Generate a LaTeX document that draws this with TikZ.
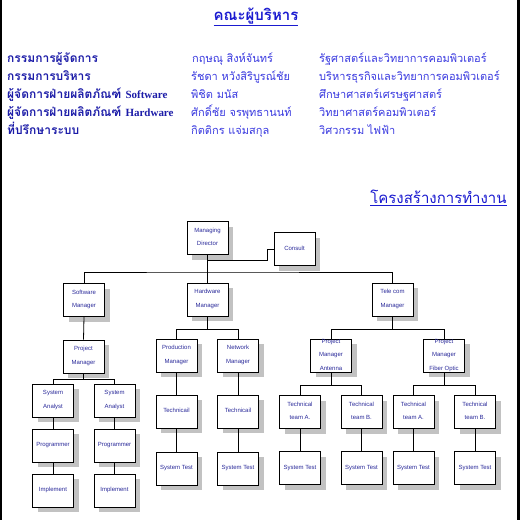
\documentclass[tikz,border=0pt]{standalone}
\usepackage{fontspec}
\setmainfont{Liberation Serif}
\setsansfont{Liberation Sans}
\newfontfamily\thai[Script=Thai]{Loma}
\usetikzlibrary{shadows}
\definecolor{hdblue}{HTML}{1C1CA8}
\definecolor{txblue}{HTML}{3A3AE0}
\definecolor{ttblue}{HTML}{1A1AD0}
\definecolor{boxtxt}{HTML}{2A2A9A}
\newcommand{\bxt}[1]{\smash{\begin{tabular}[c]{@{}c@{}}#1\end{tabular}}}
\begin{document}
\begin{tikzpicture}[x=1pt,y=-1pt,
  box/.style={draw=black, line width=0.8pt, fill=white, minimum width=41pt, minimum height=33pt,
    inner sep=0pt, font=\sffamily\fontsize{6}{13.5}\selectfont, text=boxtxt,
    drop shadow={shadow xshift=5pt, shadow yshift=-5pt, fill=black!24, opacity=1, draw=none}},
  con/.style={draw=black, line width=0.8pt},
  hd/.style={anchor=base west, inner sep=0pt, text=hdblue, font=\thai\bfseries\fontsize{12}{14}\selectfont},
  tx/.style={anchor=base west, inner sep=0pt, text=txblue, font=\thai\fontsize{11}{13}\selectfont},
  title/.style={inner sep=0pt, text=ttblue}]
\useasboundingbox (0,0) rectangle (520,520);
\fill[white] (0,0) rectangle (520,520);
\fill[black] (0,0) rectangle (1.5,520);
\fill[black] (517,0) rectangle (520,520);

% titles
\node[title, font=\thai\bfseries\fontsize{15}{17}\selectfont] (t1) at (256,17) {\underline{คณะผู้บริหาร}};
\node[title, font=\thai\fontsize{15}{17}\selectfont] (t2) at (438.5,198) {\underline{โครงสร้างการทำงาน}};

% executive table
\node[hd] (r1a) at (7,62) {กรรมการผู้จัดการ};
\node[hd] (r2a) at (7,80) {กรรมการบริหาร};
\node[hd] (r3a) at (7,98) {ผู้จัดการฝ่ายผลิตภัณฑ์ {\rmfamily\bfseries\fontsize{11}{13}\selectfont Software}};
\node[hd] (r4a) at (7,116) {ผู้จัดการฝ่ายผลิตภัณฑ์ {\rmfamily\bfseries\fontsize{11}{13}\selectfont Hardware}};
\node[hd] (r5a) at (7,134) {ที่ปรึกษาระบบ};
\node[tx] (r1b) at (192,62) {กฤษณุ สิงห์จันทร์};
\node[tx] (r2b) at (191,80) {รัชดา หวังสิริบูรณ์ชัย};
\node[tx] (r3b) at (191,98) {พิชิต มนัส};
\node[tx] (r4b) at (191,116) {ศักดิ์ชัย จรพุทธานนท์};
\node[tx] (r5b) at (191,134) {กิตติกร แจ่มสกุล};
\node[tx] (r1c) at (319,62) {รัฐศาสตร์และวิทยาการคอมพิวเตอร์};
\node[tx] (r2c) at (319,80) {บริหารธุรกิจและวิทยาการคอมพิวเตอร์};
\node[tx] (r3c) at (319,98) {ศึกษาศาสตร์เศรษฐศาสตร์};
\node[tx] (r4c) at (319,116) {วิทยาศาสตร์คอมพิวเตอร์};
\node[tx] (r5c) at (319,134) {วิศวกรรม ไฟฟ้า};

% org chart boxes
\node[box] (md) at (207.5,238) {\bxt{Managing\\Director}};
\node[box] (consult) at (294.5,249) {\bxt{Consult}};
\node[box] (sw) at (84,300) {\bxt{Software\\Manager}};
\node[box] (hw) at (207.5,299.5) {\bxt{Hardware\\Manager}};
\node[box] (tc) at (392.5,299.5) {\bxt{Tele com\\Manager}};

\node[box] (pm) at (83.5,356.5) {\bxt{Project\\Manager}};
\node[box] (sa1) at (53,400.5) {\bxt{System\\Analyst}};
\node[box] (sa2) at (114.5,400.5) {\bxt{System\\Analyst}};
\node[box] (pg1) at (53,445.5) {\bxt{Programmer}};
\node[box] (pg2) at (114.5,445.5) {\bxt{Programmer}};
\node[box] (im1) at (53,490.5) {\bxt{Implement}};
\node[box] (im2) at (114.5,490.5) {\bxt{Implement}};

\node[box] (prod) at (176.5,355.5) {\bxt{Production\\Manager}};
\node[box] (net) at (238,355.5) {\bxt{Network\\Manager}};
\node[box] (te1) at (176.5,411.5) {\bxt{Technicail}};
\node[box] (te2) at (238,411.5) {\bxt{Technicail}};
\node[box] (st1) at (176.5,468.5) {\bxt{System Test}};
\node[box] (st2) at (238,468.5) {\bxt{System Test}};

\node[box] (ant) at (331,355.5) {\bxt{Project\\Manager\\Antenna}};
\node[box] (fib) at (444,355.5) {\bxt{Project\\Manager\\Fiber Optic}};
\node[box] (ta1) at (300,412) {\bxt{Technical\\team A.}};
\node[box] (tb1) at (361.5,412) {\bxt{Technical\\team B.}};
\node[box] (ta2) at (413.5,412) {\bxt{Technical\\team A.}};
\node[box] (tb2) at (475,412) {\bxt{Technical\\team B.}};
\node[box] (st3) at (300,468) {\bxt{System Test}};
\node[box] (st4) at (361.5,468) {\bxt{System Test}};
\node[box] (st5) at (413.5,468) {\bxt{System Test}};
\node[box] (st6) at (475,468) {\bxt{System Test}};

% connectors
\coordinate (bus) at (207.5,272);
\coordinate (cb) at (207.5,260);
\coordinate (ce) at (267,260);
\draw[con] (md.south) -- (hw.north);
\draw[con] (sw.north) |- (bus) -| (tc.north);
\draw[con] (cb) -- (ce) |- (consult.west);

\draw[con] (sw.south) -- (pm.north);
\draw[con] (pm.south) -- ++(0,6) -| (sa1.north) (pm.south) ++(0,6) -| (sa2.north);
\draw[con] (sa1.south) -- (pg1.north) (pg1.south) -- (im1.north);
\draw[con] (sa2.south) -- (pg2.north) (pg2.south) -- (im2.north);

\draw[con] (hw.south) -- ++(0,13) -| (prod.north) (hw.south) ++(0,13) -| (net.north);
\draw[con] (prod.south) -- (te1.north) (te1.south) -- (st1.north);
\draw[con] (net.south) -- (te2.north) (te2.south) -- (st2.north);

\draw[con] (tc.south) -- ++(0,13) -| (ant.north) (tc.south) ++(0,13) -| (fib.north);
\draw[con] (ant.south) -- ++(0,13) -| (ta1.north) (ant.south) ++(0,13) -| (tb1.north);
\draw[con] (fib.south) -- ++(0,13) -| (ta2.north) (fib.south) ++(0,13) -| (tb2.north);
\draw[con] (ta1.south) -- (st3.north) (tb1.south) -- (st4.north);
\draw[con] (ta2.south) -- (st5.north) (tb2.south) -- (st6.north);
\end{tikzpicture}
\end{document}
